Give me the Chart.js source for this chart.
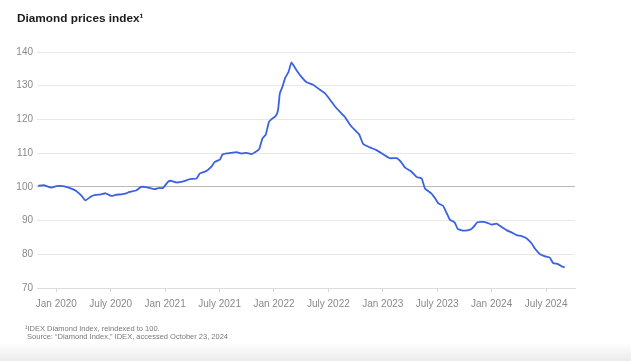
<!DOCTYPE html>
<html>
<head>
<meta charset="utf-8">
<script src="https://cdn.jsdelivr.net/npm/chart.js@4/dist/chart.umd.min.js"></script>
<style>
  html, body { margin: 0; padding: 0; background: #fff; }
  #wrap { position: relative; width: 631px; height: 361px; overflow: hidden; background: #fff; }
  #fade { position: absolute; left: 0; top: 343px; width: 631px; height: 18px;
          background: linear-gradient(to bottom, rgba(236,236,236,0), #ebebeb); }
  canvas { position: absolute; left: 0; top: 0; }
  #title { position: absolute; left: 17px; top: 11px; font: bold 11.8px "Liberation Sans", Arial, sans-serif;
           line-height: 14px; color: #1b1b1b; white-space: nowrap; }
  #foot { position: absolute; left: 25px; top: 324.5px; font: 7.5px "Liberation Sans", Arial, sans-serif;
          line-height: 8.4px; color: #7a7a7a; white-space: nowrap; }
</style>
</head>
<body>
<div id="wrap">
  <div id="fade"></div>
  <canvas id="c" width="631" height="361"></canvas>
  <div id="title">Diamond prices index¹</div>
  <div id="foot">¹IDEX Diamond Index, reindexed to 100.<br>&nbsp;Source: “Diamond Index,” IDEX, accessed October 23, 2024</div>
</div>
<script>
const dates = [
  "2019-11-01","2019-11-19","2019-12-15","2020-01-01","2020-01-12","2020-02-04","2020-02-20","2020-03-07",
  "2020-03-24","2020-04-07","2020-04-27","2020-05-11","2020-05-31","2020-06-14","2020-07-03","2020-07-17",
  "2020-08-06","2020-08-20","2020-09-03","2020-09-26","2020-10-12","2020-10-29","2020-11-26","2020-12-13",
  "2020-12-24","2021-01-11","2021-01-22","2021-02-08","2021-03-01","2021-03-23","2021-04-15","2021-04-26",
  "2021-05-18","2021-06-04","2021-06-15","2021-07-02","2021-07-11","2021-07-25","2021-08-11","2021-08-28",
  "2021-09-14","2021-09-30","2021-10-17","2021-11-01","2021-11-12","2021-11-23","2021-12-04","2021-12-15",
  "2021-12-27","2022-01-07","2022-01-15","2022-01-21","2022-01-30","2022-02-07","2022-02-18","2022-02-27",
  "2022-03-16","2022-04-02","2022-04-19","2022-05-11","2022-06-03","2022-06-20","2022-07-06","2022-07-23",
  "2022-08-09","2022-08-26","2022-09-12","2022-09-29","2022-10-13","2022-10-27","2022-11-18","2022-12-10",
  "2023-01-02","2023-01-25","2023-02-16","2023-03-03","2023-03-14","2023-04-06","2023-04-23","2023-05-10",
  "2023-05-21","2023-06-12","2023-06-24","2023-07-05","2023-07-21","2023-08-02","2023-08-13","2023-08-30",
  "2023-09-09","2023-09-30","2023-10-23","2023-11-02","2023-11-14","2023-12-03","2023-12-15","2024-01-01",
  "2024-01-18","2024-02-04","2024-02-21","2024-03-07","2024-03-24","2024-04-10","2024-04-27","2024-05-14",
  "2024-05-25","2024-06-11","2024-06-28","2024-07-14","2024-07-25","2024-08-11","2024-08-26","2024-09-03"
];
const indexValues = [
  100.3,100.5,99.8,100.2,100.3,100.0,99.5,98.8,
  97.5,96.0,97.2,97.6,97.8,98.1,97.3,97.6,
  97.8,98.0,98.5,99.0,100.0,99.9,99.3,99.7,
  99.6,101.5,101.8,101.3,101.6,102.3,102.5,104.0,
  104.7,106.0,107.4,108.1,109.6,109.9,110.1,110.3,
  109.9,110.1,109.7,110.4,111.2,114.4,115.5,119.3,
  120.3,121.0,122.8,127.7,129.7,132.2,134.1,136.9,
  134.6,132.6,131.0,130.3,128.8,127.7,125.9,123.9,
  122.3,120.8,118.5,116.8,115.6,112.7,111.7,110.9,
  109.7,108.5,108.5,107.2,105.8,104.5,102.9,102.5,
  99.5,98.0,96.6,95.1,94.4,92.3,90.3,89.4,
  87.5,87.0,87.4,88.2,89.5,89.6,89.4,88.8,
  89.1,88.1,87.1,86.5,85.7,85.4,84.7,83.2,
  81.7,80.0,79.4,79.0,77.4,77.1,76.3,76.2
];
const tickLabels = ["Jan 2020","July 2020","Jan 2021","July 2021","Jan 2022","July 2022","Jan 2023","July 2023","Jan 2024","July 2024"];
const axisStart = "2019-10-28";
const axisEnd = "2024-10-07";
const yMin = 70, yMax = 140, yStep = 10, referenceValue = 100;

function toMonths(s) {
  const [y, m, d] = s.split("-").map(Number);
  const dim = new Date(y, m, 0).getDate();
  return (y - 2020) * 12 + (m - 1) + (d - 1) / dim;
}
const points = dates.map((d, i) => ({ x: toMonths(d), y: indexValues[i] }));

new Chart(document.getElementById("c"), {
  type: "line",
  data: { datasets: [{
    data: points,
    borderColor: "#3a62e0",
    borderWidth: 1.8,
    pointRadius: 0,
    tension: 0.12,
    fill: false
  }]},
  options: {
    responsive: false,
    animation: false,
    layout: { padding: { top: 52, right: 56, bottom: 48, left: 0 } },
    plugins: { legend: { display: false }, tooltip: { enabled: false } },
    scales: {
      x: {
        type: "linear",
        min: toMonths(axisStart),
        max: toMonths(axisEnd),
        afterBuildTicks: (s) => { s.ticks = tickLabels.map((_, i) => ({ value: i * 6 })); },
        afterFit: (s) => { s.height = 25; },
        ticks: {
          autoSkip: false, maxRotation: 0, color: "#8a8a8a", padding: 6,
          font: { family: "Liberation Sans", size: 10 },
          callback: (v) => tickLabels[Math.round(v / 6)]
        },
        grid: { drawOnChartArea: false, drawTicks: true, tickLength: 4, color: "#d4d4d4" },
        border: { color: "#dcdcdc" }
      },
      y: {
        min: yMin, max: yMax,
        afterFit: (s) => { s.width = 37; },
        ticks: { stepSize: yStep, color: "#8a8a8a", padding: 4, font: { family: "Liberation Sans", size: 10 } },
        grid: {
          drawTicks: false,
          color: (ctx) => (ctx.tick && ctx.tick.value === referenceValue ? "#b8b8b8" : "#e8e8e8"),
          lineWidth: 1
        },
        border: { display: false }
      }
    }
  }
});
</script>
</body>
</html>
